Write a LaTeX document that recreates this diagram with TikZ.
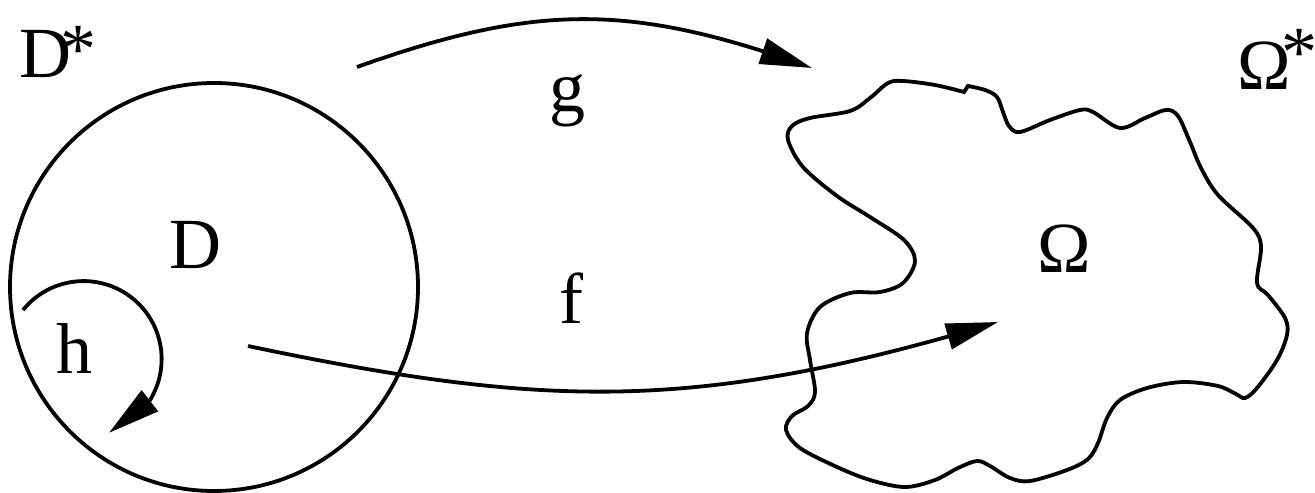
\documentclass[tikz,border=0pt]{standalone}
\usepackage{fontspec}
\setmainfont{Liberation Serif}
\usetikzlibrary{arrows.meta,bending}
\begin{document}
\begin{tikzpicture}[x=0.5pt,y=-0.5pt, line width=1.9pt,
  lbl/.style={inner sep=0pt, font=\fontsize{36}{40}\selectfont},
  maparrow/.style={-{Triangle[length=26pt,width=13pt]}}]
\useasboundingbox (0,0) rectangle (1315,492);
% disc D
\node[circle, draw, minimum size=204pt, inner sep=0pt] (Dc) at (214,287) {};
% region Omega
\draw plot[smooth, tension=0.55] coordinates {
(968,86) (985,90) (997,97) (1003,112) (1009,126) (1020,132) (1050,120) (1080,110)
(1093,112) (1120,128) (1145,118) (1166,110) (1178,116) (1190,142) (1201,168)
(1218,195) (1253,228) (1261,247) (1257,283) (1268,295) (1285,318) (1287,335)
(1277,360) (1257,388) (1245,398) (1236,394) (1218,386) (1183,382) (1147,388)
(1120,400) (1107,418) (1098,443) (1088,459) (1067,470) (1030,481) (1010,478)
(990,466) (977,461) (958,468) (935,480) (905,487) (870,480) (837,467) (800,448)
(786,430) (792,416) (808,406) (815,392) (810,360) (807,333) (820,307) (850,293)
(880,292) (903,283) (915,261) (904,240) (870,217) (837,196) (803,167) (788,140)
(792,126) (810,118) (850,111) (870,98) (888,83) (903,81) (935,85) (964,92)} -- cycle;
% labels
\node[lbl, anchor=base west] (Dstar) at (18,78) {D\kern-5.5pt\raisebox{2pt}{*}};
\node[lbl, anchor=base west] (Ostar) at (1236,90) {Ω\kern-5pt\raisebox{6.5pt}{*}};
\node[lbl, anchor=base] (Dl) at (195,268) {D};
\node[lbl, anchor=base] (hl) at (74.5,373) {h};
\node[lbl, anchor=base] (gl) at (567.5,112) {g};
\node[lbl, anchor=base] (fl) at (571.5,323) {f};
\node[lbl, anchor=base] (Ol) at (1064,272) {Ω};
% maps
\coordinate (gs) at (357,67);
\coordinate (ge) at (812,68);
\draw[maparrow] (gs) .. controls (537,3) and (632,3) .. (ge);
\coordinate (fs) at (248,346);
\coordinate (fe) at (998,322);
\draw[maparrow] (fs) .. controls (548,409) and (698,412) .. (fe);
\coordinate (hs) at (23,310);
\draw[maparrow] (hs) arc[start angle=141, end angle=-71, radius=39pt];
\end{tikzpicture}
\end{document}
